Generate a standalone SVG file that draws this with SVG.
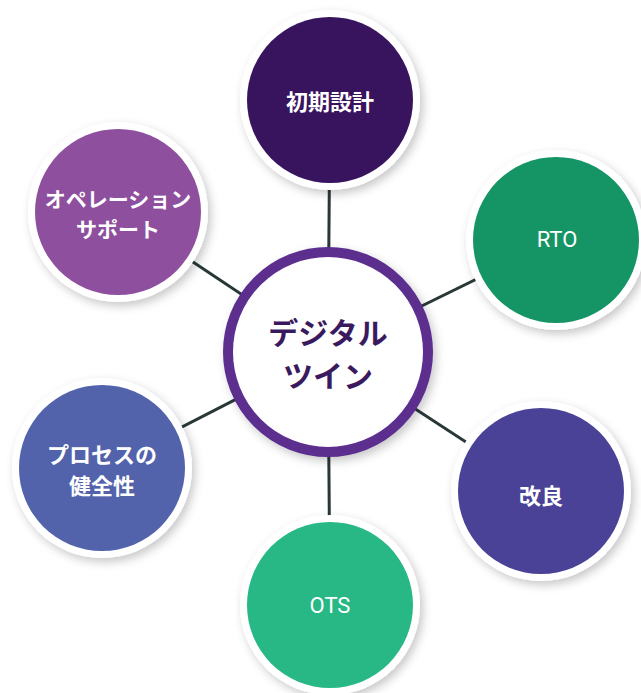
<svg xmlns="http://www.w3.org/2000/svg" width="641" height="693" viewBox="0 0 641 693">
<defs>
<filter id="sh" x="-30%" y="-30%" width="160%" height="160%">
<feDropShadow dx="3" dy="4" stdDeviation="5" flood-color="#000" flood-opacity="0.22"/>
</filter>
<style>
.ring{fill:#fff;filter:url(#sh)}
.jp{font-family:"Noto Sans CJK JP","Noto Sans",sans-serif;font-weight:700;fill:#fff;font-size:22px;text-anchor:middle;dominant-baseline:central}
.en{font-family:Roboto,"Liberation Sans",sans-serif;font-weight:400;fill:#fff;font-size:22px;text-anchor:middle;dominant-baseline:central}
.conn line{stroke:#283838;stroke-width:3}
</style>
</defs>
<rect width="641" height="693" fill="#fff"/>
<g id="connectors" class="conn">
<line x1="330" y1="100" x2="328" y2="352"/>
<line x1="118" y1="212" x2="328" y2="352"/>
<line x1="556" y1="240" x2="328" y2="352"/>
<line x1="102" y1="468" x2="328" y2="352"/>
<line x1="541" y1="491" x2="328" y2="352"/>
<line x1="330" y1="605" x2="328" y2="352"/>
</g>
<g id="node-design">
<circle class="ring" cx="330" cy="100" r="90"/>
<circle cx="330" cy="100" r="83" fill="#38135e"/>
<text class="jp" x="330" y="100">初期設計</text>
</g>
<g id="node-ops">
<circle class="ring" cx="118" cy="212" r="90"/>
<circle cx="118" cy="212" r="83" fill="#8e4f9e"/>
<text class="jp" x="118" y="198" style="font-size:21px">オペレーション</text>
<text class="jp" x="118" y="228" style="font-size:21px">サポート</text>
</g>
<g id="node-rto">
<circle class="ring" cx="556" cy="240" r="90"/>
<circle cx="556" cy="240" r="83" fill="#159466"/>
<text class="en" x="557" y="239">RTO</text>
</g>
<g id="node-health">
<circle class="ring" cx="102" cy="468" r="90"/>
<circle cx="102" cy="468" r="83" fill="#5263ab"/>
<text class="jp" x="102" y="453">プロセスの</text>
<text class="jp" x="102" y="484">健全性</text>
</g>
<g id="node-improve">
<circle class="ring" cx="541" cy="491" r="90"/>
<circle cx="541" cy="491" r="83" fill="#4a4297"/>
<text class="jp" x="541" y="494">改良</text>
</g>
<g id="node-ots">
<circle class="ring" cx="330" cy="605" r="90"/>
<circle cx="330" cy="605" r="83" fill="#27b886"/>
<text class="en" x="330" y="605">OTS</text>
</g>
<g id="node-center">
<circle cx="328" cy="352" r="100" fill="#fff" stroke="#5b2d8e" stroke-width="10" filter="url(#sh)"/>
<text class="jp" x="328" y="331" style="fill:#3a1a5e;font-size:30px">デジタル</text>
<text class="jp" x="328" y="374" style="fill:#3a1a5e;font-size:30px">ツイン</text>
</g>
</svg>
